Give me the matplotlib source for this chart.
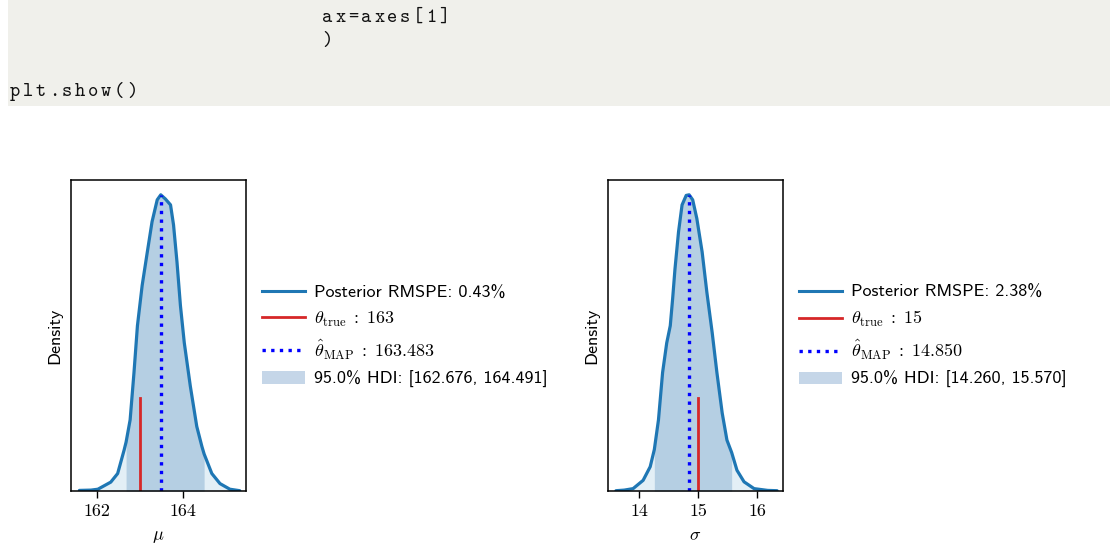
import numpy as np
import matplotlib
matplotlib.use("Agg")
import matplotlib.pyplot as plt
from matplotlib.patches import Rectangle, Patch
from matplotlib.lines import Line2D

plt.rcParams["mathtext.fontset"] = "cm"
plt.rcParams["font.family"] = ["cmss10", "DejaVu Sans"]
plt.rcParams["axes.unicode_minus"] = False

# Posterior density of mu (relative density along the KDE curve)
mu_x = [161.59, 161.86, 162.02, 162.32, 162.48, 162.63, 162.676, 162.77, 162.86,
        162.94, 163.05, 163.17, 163.28, 163.40, 163.483, 163.59, 163.71, 163.78,
        163.86, 163.94, 164.03, 164.17, 164.32, 164.44, 164.491, 164.67, 164.86,
        165.09, 165.32]
mu_d = [0.002, 0.003, 0.006, 0.03, 0.059, 0.138, 0.165, 0.24, 0.40,
        0.558, 0.694, 0.807, 0.909, 0.983, 1.00, 0.986, 0.966, 0.898,
        0.773, 0.626, 0.50, 0.354, 0.218, 0.15, 0.125, 0.059, 0.025,
        0.006, 0.001]

# Posterior density of sigma
sig_x = [13.61, 13.75, 13.90, 14.07, 14.19, 14.26, 14.33, 14.40, 14.47, 14.53,
         14.57, 14.61, 14.67, 14.73, 14.80, 14.850, 14.91, 14.98, 15.07, 15.15,
         15.24, 15.32, 15.41, 15.49, 15.57, 15.66, 15.78, 15.95, 16.18, 16.34]
sig_d = [0.001, 0.003, 0.008, 0.036, 0.082, 0.14, 0.24, 0.40, 0.50, 0.558,
         0.649, 0.75, 0.875, 0.966, 0.998, 1.00, 0.983, 0.92, 0.807, 0.671,
         0.535, 0.40, 0.263, 0.172, 0.13, 0.07, 0.031, 0.008, 0.002, 0.001]

params = [
    dict(x=mu_x, d=mu_d, true=163, true_lbl="163", map=163.483, hdi=(162.676, 164.491),
         rmspe="0.43%", xlabel=r"$\mu$", xticks=[162, 164], xlim=(161.395, 165.465)),
    dict(x=sig_x, d=sig_d, true=15, true_lbl="15", map=14.850, hdi=(14.260, 15.570),
         rmspe="2.38%", xlabel=r"$\sigma$", xticks=[14, 15, 16], xlim=(13.475, 16.44)),
]

W, H = 1110, 546
fig = plt.figure(figsize=(W / 100, H / 100), dpi=100)

# notebook code cell above the figure
fig.patches.append(Rectangle((8 / W, 1 - 105.5 / H), 1 - 8 / W, 105.5 / H,
                             transform=fig.transFigure, facecolor="#f0f0eb",
                             edgecolor="none", zorder=0))
code_lines = [(322, 22, "ax=axes[1]"), (322, 45, ")"), (10, 96, "plt.show()")]
for x0, yb, line in code_lines:
    for i, ch in enumerate(line):
        fig.text((x0 + 13 * i) / W, 1 - yb / H, ch, family="cmtt10", fontsize=14,
                 color="#111111", ha="left", va="baseline")

lefts = [71, 608]
for p, lpx in zip(params, lefts):
    ax = fig.add_axes([lpx / W, 1 - 491 / H, 175 / W, 311 / H])
    x = np.array(p["x"])
    d = np.array(p["d"])
    lo, hi = p["hdi"]
    ax.fill_between(x, 0, d, color="#e3eff6", lw=0)
    inside = (x >= lo - 1e-9) & (x <= hi + 1e-9)
    ax.fill_between(x[inside], 0, d[inside], color="#b5cfe3", lw=0)
    ax.plot(x, d, color="#1f77b4", lw=2.3, solid_joinstyle="round",
            solid_capstyle="round")
    ax.axvline(p["true"], ymax=0.3, color="#d62728", lw=2)
    peak = d[np.argmin(np.abs(x - p["map"]))]
    ax.vlines(p["map"], 0, peak, colors="blue", linestyles=(0, (1, 1.6)), lw=2.4)
    ax.set_ylim(0, 1.05 * d.max())
    ax.set_xlim(*p["xlim"])
    ax.set_yticks([])
    ax.set_xticks(p["xticks"])
    ax.set_xticklabels([str(t) for t in p["xticks"]], family="cmr10", fontsize=13)
    ax.tick_params(axis="x", direction="out", length=5, width=1, pad=4)
    ax.set_ylabel("Density", fontsize=13, labelpad=6)
    ax.set_xlabel(p["xlabel"], fontsize=13, labelpad=7)
    for s in ax.spines.values():
        s.set_linewidth(1.1)

    handles = [
        Line2D([], [], color="#1f77b4", lw=2.2),
        Line2D([], [], color="#d62728", lw=2),
        Line2D([], [], color="blue", lw=2.4, linestyle=(0, (1, 1.6))),
        Patch(facecolor="#c5d6e8", edgecolor="none"),
    ]
    labels = [
        "Posterior RMSPE: " + p["rmspe"],
        r"$\theta_{\mathrm{true}}\;{:}\;" + p["true_lbl"] + "$",
        r"$\hat{\theta}_{\mathrm{MAP}}\;{:}\;" + f"{p['map']:.3f}" + "$",
        f"95.0% HDI: [{lo:.3f}, {hi:.3f}]",
    ]
    ax.legend(handles, labels, loc="center left", bbox_to_anchor=(1.091, 0.497),
              frameon=False, fontsize=13, borderaxespad=0, borderpad=0,
              handlelength=2.4, handletextpad=0.5, labelspacing=0.5)

fig.savefig("out.png", dpi=100)
